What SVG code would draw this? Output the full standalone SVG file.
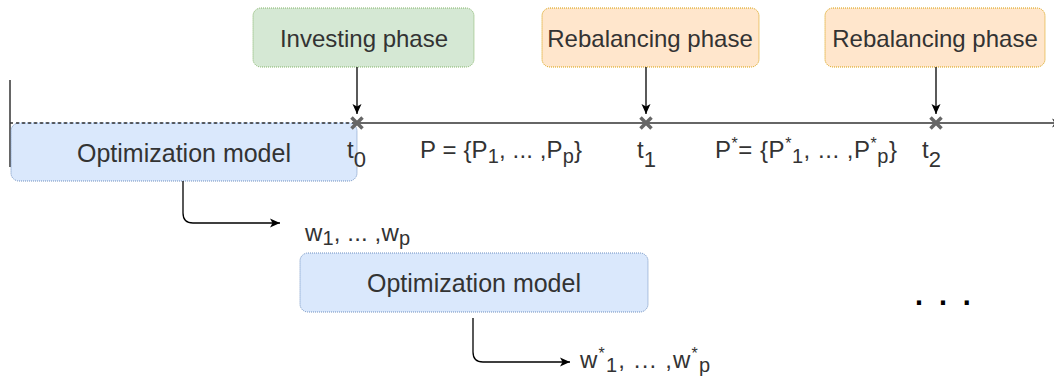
<svg xmlns="http://www.w3.org/2000/svg" width="1054" height="379" viewBox="0 0 1054 379">
<style>
  text { font-family: "Liberation Sans", Arial, sans-serif; fill: #333333; }
  .lbl { font-size: 24px; text-anchor: middle; }
  .opt { font-size: 25px; }
  .math { font-size: 24px; }
  .green { fill: #d5e8d4; stroke: #82b366; stroke-width: 1; stroke-dasharray: 1 1; }
  .orange { fill: #ffe6cc; stroke: #d79b00; stroke-width: 1; stroke-dasharray: 1 1; }
  .blue { fill: #dae8fc; stroke: #6c8ebf; stroke-width: 1; stroke-dasharray: 1 1; }
  .edge { fill: none; stroke: #000000; stroke-width: 1.3; }
  .axis { fill: none; stroke: #333333; stroke-width: 1.5; }
  .cross { stroke: #666666; stroke-width: 3.5; stroke-linecap: butt; }
</style>
<defs>
  <marker id="arr" markerUnits="userSpaceOnUse" markerWidth="12" markerHeight="10" refX="10" refY="5" orient="auto">
    <path d="M0,0.5 L10,5 L0,9.5 L2.5,5 Z" fill="#000000"/>
  </marker>
  <marker id="axarr" markerUnits="userSpaceOnUse" markerWidth="12" markerHeight="10" refX="10" refY="5" orient="auto">
    <path d="M0,0.5 L10,5 L0,9.5 L2.5,5 Z" fill="#333333"/>
  </marker>
</defs>

<g id="timeline">
  <line class="axis" x1="10" y1="80" x2="10" y2="167"/>
</g>

<g id="opt-model-1">
  <rect class="blue" x="11" y="123" width="346" height="58" rx="8"/>
  <text class="lbl opt" x="184" y="162">Optimization model</text>
</g>

<g id="axis">
  <line x1="10" y1="123" x2="352" y2="123" stroke="#333333" stroke-width="1.5" stroke-dasharray="3 3"/>
  <line class="axis" x1="352" y1="123" x2="1062" y2="123" marker-end="url(#axarr)"/>
</g>

<g id="investing-phase">
  <rect class="green" x="253" y="8" width="221" height="59" rx="8"/>
  <text class="lbl" x="364" y="47">Investing phase</text>
</g>
<g id="rebalancing-phase-1">
  <rect class="orange" x="542" y="8" width="217" height="59" rx="8"/>
  <text class="lbl" x="650" y="47">Rebalancing phase</text>
</g>
<g id="rebalancing-phase-2">
  <rect class="orange" x="825" y="8" width="220" height="59" rx="8"/>
  <text class="lbl" x="935" y="47">Rebalancing phase</text>
</g>

<g id="opt-model-2">
  <rect class="blue" x="300" y="253" width="348" height="59" rx="8"/>
  <text class="lbl opt" x="474" y="292">Optimization model</text>
</g>

<g id="marks">
  <g id="t0">
    <path class="cross" d="M351.5,117.5 L362.5,128.5 M362.5,117.5 L351.5,128.5"/>
    <text class="math" x="347" y="158">t<tspan font-size="22" dy="9">0</tspan></text>
  </g>
  <g id="t1">
    <path class="cross" d="M640.5,117.5 L651.5,128.5 M651.5,117.5 L640.5,128.5"/>
    <text class="math" x="637" y="158">t<tspan font-size="22" dy="9">1</tspan></text>
  </g>
  <g id="t2">
    <path class="cross" d="M930.5,117.5 L941.5,128.5 M941.5,117.5 L930.5,128.5"/>
    <text class="math" x="922" y="158">t<tspan font-size="22" dy="9">2</tspan></text>
  </g>
</g>

<g id="set-p">
  <text class="math" x="420" y="158" textLength="162" lengthAdjust="spacing">P = {P<tspan font-size="20" dy="5">1</tspan><tspan dy="-5">, ... ,P</tspan><tspan font-size="20" dy="5">p</tspan><tspan dy="-5">}</tspan></text>
</g>
<g id="set-pstar">
  <text class="math" x="715" y="158" textLength="182" lengthAdjust="spacing">P<tspan font-size="16" dy="-9">*</tspan><tspan dy="9">= {P</tspan><tspan font-size="16" dy="-9">*</tspan><tspan font-size="20" dy="14">1</tspan><tspan dy="-5">, ... ,P</tspan><tspan font-size="16" dy="-9">*</tspan><tspan font-size="20" dy="14">p</tspan><tspan dy="-5">}</tspan></text>
</g>

<g id="weights">
  <text class="math" x="305" y="241" textLength="105" lengthAdjust="spacing">w<tspan font-size="20" dy="4">1</tspan><tspan dy="-4">, ... ,w</tspan><tspan font-size="20" dy="4">p</tspan></text>
</g>
<g id="weights-star">
  <text class="math" x="580" y="368" textLength="130" lengthAdjust="spacing">w<tspan font-size="16" dy="-9">*</tspan><tspan font-size="20" dy="13">1</tspan><tspan dy="-4">, ... ,w</tspan><tspan font-size="16" dy="-9">*</tspan><tspan font-size="20" dy="13">p</tspan></text>
</g>

<g id="ellipsis">
  <text x="913" y="305" font-size="43" style="fill:#000000">. . .</text>
</g>

<g id="connectors">
  <line class="edge" x1="357" y1="67" x2="357" y2="114" marker-end="url(#arr)"/>
  <line class="edge" x1="646" y1="67" x2="646" y2="114" marker-end="url(#arr)"/>
  <line class="edge" x1="936" y1="67" x2="936" y2="114" marker-end="url(#arr)"/>
  <path class="edge" d="M183,181 V213 Q183,223 193,223 H280" marker-end="url(#arr)"/>
  <path class="edge" d="M473,318 V352 Q473,362 483,362 H570" marker-end="url(#arr)"/>
</g>
</svg>
